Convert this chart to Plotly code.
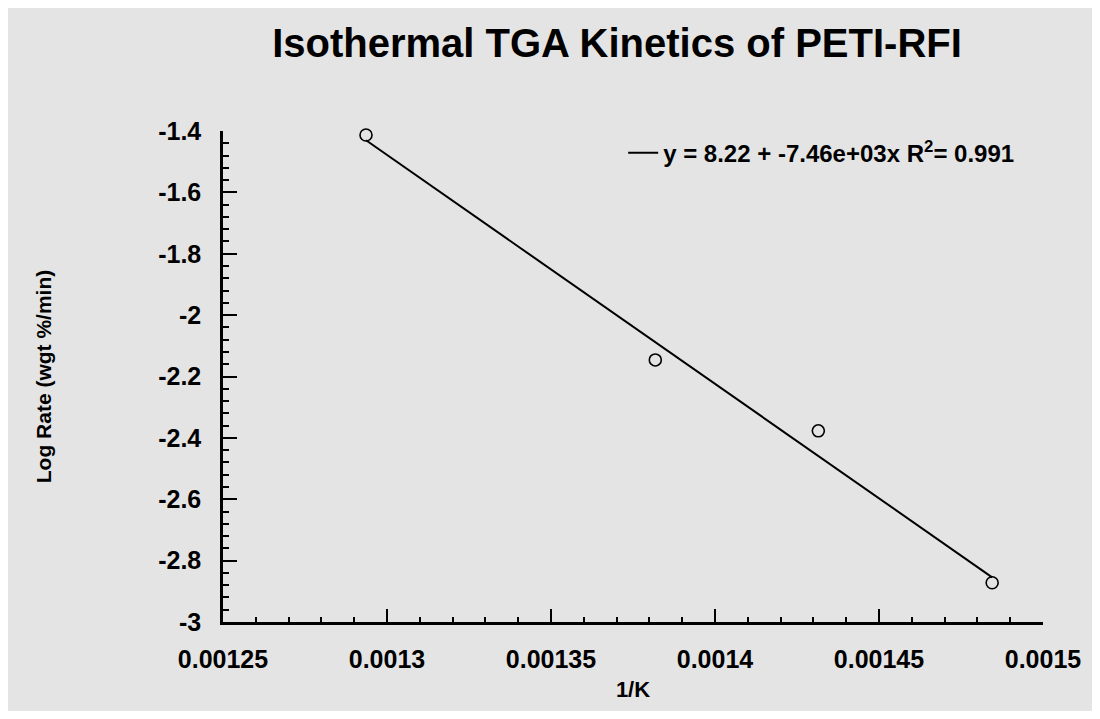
import plotly.graph_objects as go

# Data
inv_temp = [0.0012936, 0.0013818, 0.0014315, 0.0014845]   # 1/K
log_rate = [-1.413, -2.146, -2.377, -2.872]               # Log Rate (wgt %/min)

# Linear fit as stated on the chart
fit_intercept = 8.22
fit_slope = -7.46e3
fit_r2 = 0.991
fit_x = [inv_temp[0], inv_temp[-1]]
fit_y = [fit_intercept + fit_slope * x for x in fit_x]

x_ticks = [0.00125, 0.0013, 0.00135, 0.0014, 0.00145, 0.0015]
x_tick_labels = ["0.00125", "0.0013", "0.00135", "0.0014", "0.00145", "0.0015"]
y_ticks = [-3, -2.8, -2.6, -2.4, -2.2, -2, -1.8, -1.6, -1.4]
y_tick_labels = ["-3", "-2.8", "-2.6", "-2.4", "-2.2", "-2", "-1.8", "-1.6", "-1.4"]

FONT = "Liberation Sans, Arial, Helvetica, sans-serif"
BG = "#e4e4e4"
W, H = 1084, 703   # page body has an 8px margin

fig = go.Figure()
fig.add_trace(go.Scatter(
    x=inv_temp, y=log_rate, mode="markers",
    marker=dict(symbol="circle-open", size=12, color="black", line=dict(width=1.6, color="black")),
    cliponaxis=False,
    showlegend=False,
))
fig.add_trace(go.Scatter(
    x=fit_x, y=fit_y, mode="lines",
    line=dict(color="black", width=2),
    cliponaxis=False,
    name=f"y = {fit_intercept} + {fit_slope:.2e}x R<sup>2</sup>= {fit_r2}",
    showlegend=True,
))

fig.update_layout(
    width=W, height=H,
    paper_bgcolor=BG, plot_bgcolor=BG,
    margin=dict(l=215, r=49, t=123, b=89, autoexpand=False),
    title=dict(
        text="Isothermal TGA Kinetics of PETI-RFI",
        font=dict(family=FONT, size=40, color="black", weight="bold"),
        x=(617 - 8) / W, xref="container", xanchor="center",
        y=1 - (43 - 8) / H, yref="container", yanchor="middle",
    ),
    legend=dict(
        x=0.488, y=0.955, xanchor="left", yanchor="middle",
        bgcolor="rgba(0,0,0,0)",
        font=dict(family=FONT, size=24, color="black", weight="bold"),
    ),
    xaxis=dict(
        range=[0.00125, 0.0015],
        tickmode="array", tickvals=x_ticks, ticktext=x_tick_labels,
        ticks="inside", ticklen=13, tickwidth=2, tickcolor="black",
        minor=dict(dtick=0.00001, ticks="inside", ticklen=5, tickwidth=1.5, tickcolor="black"),
        showline=True, linecolor="black", linewidth=2.5,
        showgrid=False, zeroline=False,
        tickfont=dict(family=FONT, size=25, color="black", weight="bold"),
        ticklabelstandoff=13,
        title=dict(text="1/K", font=dict(family=FONT, size=22, color="black", weight="bold"), standoff=10),
    ),
    yaxis=dict(
        range=[-3, -1.4],
        tickmode="array", tickvals=y_ticks, ticktext=y_tick_labels,
        ticks="inside", ticklen=14, tickwidth=2, tickcolor="black",
        minor=dict(dtick=0.04, ticks="inside", ticklen=6, tickwidth=1.5, tickcolor="black"),
        showline=True, linecolor="black", linewidth=2.5,
        showgrid=False, zeroline=False,
        tickfont=dict(family=FONT, size=25, color="black", weight="bold"),
        ticklabelstandoff=14,
        title=dict(text="Log Rate (wgt %/min)", font=dict(family=FONT, size=21, color="black", weight="bold"), standoff=101),
    ),
)

fig.write_html("out.html")
